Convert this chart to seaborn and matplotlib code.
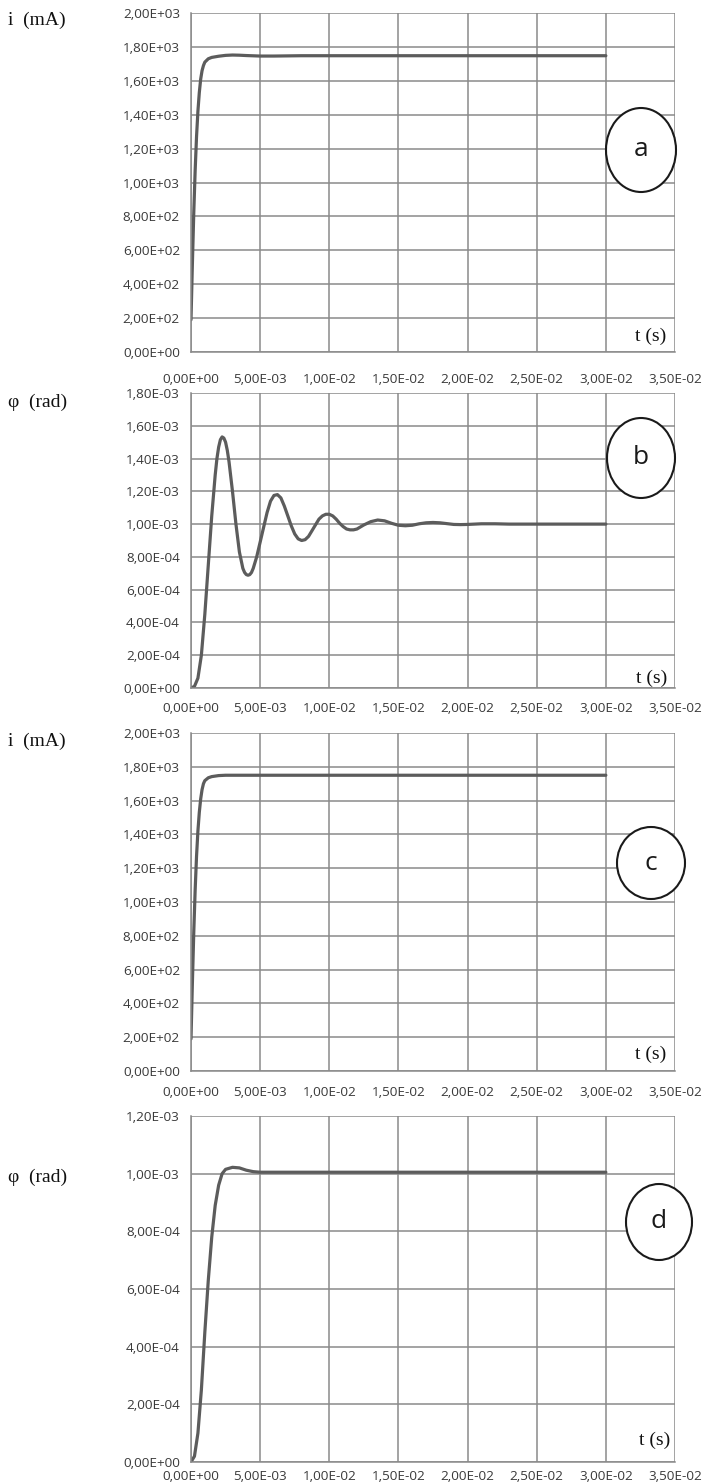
import numpy as np
import pandas as pd
import matplotlib
matplotlib.use("Agg")
import matplotlib.pyplot as plt
import seaborn as sns
from matplotlib.patches import Ellipse
from matplotlib.ticker import FuncFormatter, MultipleLocator

# DATA

# a: current, first simulation
t_a = [0, 0.1e-3, 0.2e-3, 0.3e-3, 0.4e-3, 0.5e-3, 0.6e-3, 0.7e-3, 0.8e-3, 0.9e-3,
       1.0e-3, 1.25e-3, 1.5e-3, 2.0e-3, 2.5e-3, 3.0e-3, 3.5e-3, 4.0e-3, 5.0e-3,
       6.0e-3, 8.0e-3, 1.0e-2, 1.5e-2, 2.0e-2, 2.5e-2, 3.0e-2]
i_a = [190, 520, 820, 1070, 1270, 1420, 1530, 1610, 1660, 1690,
       1710, 1730, 1738, 1745, 1750, 1752, 1751, 1749, 1746,
       1746, 1748, 1748, 1748, 1748, 1748, 1748]

# b: angle, oscillating response
t_b = [0, 0.25e-3, 0.5e-3, 0.75e-3, 1.0e-3, 1.25e-3, 1.5e-3, 1.75e-3, 1.875e-3, 2.0e-3,
       2.125e-3, 2.25e-3, 2.375e-3, 2.5e-3, 2.625e-3, 2.75e-3, 3.0e-3, 3.25e-3, 3.5e-3,
       3.75e-3, 3.875e-3, 4.0e-3, 4.125e-3, 4.25e-3, 4.375e-3, 4.5e-3, 4.75e-3,
       5.0e-3, 5.25e-3, 5.5e-3, 5.75e-3, 6.0e-3, 6.25e-3, 6.5e-3, 6.75e-3, 7.0e-3, 7.25e-3,
       7.5e-3, 7.75e-3, 8.0e-3, 8.25e-3, 8.5e-3, 8.75e-3, 9.0e-3, 9.25e-3, 9.5e-3, 9.75e-3,
       1.0e-2, 1.025e-2, 1.05e-2, 1.075e-2, 1.1e-2, 1.125e-2, 1.15e-2, 1.175e-2, 1.2e-2,
       1.25e-2, 1.3e-2, 1.35e-2, 1.4e-2, 1.45e-2, 1.5e-2, 1.55e-2, 1.6e-2, 1.65e-2,
       1.7e-2, 1.75e-2, 1.8e-2, 1.85e-2, 1.9e-2, 1.95e-2, 2.0e-2, 2.1e-2, 2.2e-2,
       2.3e-2, 2.5e-2, 2.75e-2, 3.0e-2]
phi_b = [0, 0.01e-3, 0.06e-3, 0.2e-3, 0.45e-3, 0.75e-3, 1.05e-3, 1.3e-3, 1.40e-3, 1.47e-3,
         1.515e-3, 1.532e-3, 1.525e-3, 1.5e-3, 1.45e-3, 1.38e-3, 1.2e-3, 1.0e-3, 0.83e-3,
         0.73e-3, 0.705e-3, 0.692e-3, 0.688e-3, 0.692e-3, 0.705e-3, 0.73e-3, 0.8e-3,
         0.89e-3, 0.98e-3, 1.07e-3, 1.14e-3, 1.175e-3, 1.18e-3, 1.16e-3, 1.11e-3, 1.05e-3, 0.99e-3,
         0.94e-3, 0.91e-3, 0.9e-3, 0.905e-3, 0.925e-3, 0.96e-3, 0.995e-3, 1.03e-3, 1.05e-3, 1.06e-3,
         1.06e-3, 1.05e-3, 1.03e-3, 1.005e-3, 0.985e-3, 0.97e-3, 0.965e-3, 0.965e-3, 0.97e-3,
         0.995e-3, 1.015e-3, 1.025e-3, 1.02e-3, 1.005e-3, 0.993e-3, 0.99e-3, 0.993e-3, 1.002e-3,
         1.008e-3, 1.01e-3, 1.008e-3, 1.003e-3, 0.998e-3, 0.997e-3, 0.998e-3, 1.002e-3, 1.002e-3,
         1.0e-3, 1.0e-3, 1.0e-3, 1.0e-3]

# c: current, second simulation
t_c = [0, 0.1e-3, 0.2e-3, 0.3e-3, 0.4e-3, 0.5e-3, 0.6e-3, 0.7e-3, 0.8e-3, 0.9e-3,
       1.0e-3, 1.25e-3, 1.5e-3, 2.0e-3, 2.5e-3, 3.0e-3, 4.0e-3, 5.0e-3, 1.0e-2,
       2.0e-2, 3.0e-2]
i_c = [190, 520, 820, 1070, 1270, 1420, 1530, 1610, 1665, 1700,
       1718, 1735, 1742, 1748, 1750, 1750, 1750, 1750, 1750,
       1750, 1750]

# d: angle, second simulation
t_d = [0, 0.25e-3, 0.5e-3, 0.75e-3, 1.0e-3, 1.25e-3, 1.5e-3, 1.75e-3, 2.0e-3, 2.25e-3,
       2.5e-3, 3.0e-3, 3.5e-3, 4.0e-3, 4.5e-3, 5.0e-3, 1.0e-2, 2.0e-2, 3.0e-2]
phi_d = [0, 0.02e-3, 0.1e-3, 0.25e-3, 0.45e-3, 0.63e-3, 0.78e-3, 0.89e-3, 0.96e-3, 1.0e-3,
         1.015e-3, 1.022e-3, 1.02e-3, 1.012e-3, 1.007e-3, 1.005e-3, 1.005e-3, 1.005e-3, 1.005e-3]

panels = [
    # name, t, y, ymax, ystep, ylabel, box (px: top, bottom), x label pad
    ("a", t_a, i_a, 2.0e3, 0.2e3, "i  (mA)", (13, 352), 10),
    ("b", t_b, phi_b, 1.8e-3, 0.2e-3, "\u03c6  (rad)", (393, 688), 5),
    ("c", t_c, i_c, 2.0e3, 0.2e3, "i  (mA)", (733, 1071), 5.5),
    ("d", t_d, phi_d, 1.2e-3, 0.2e-3, "\u03c6  (rad)", (1116, 1462), 0.5),
]

# ellipse centre and size in pixels, per panel
circles = {
    "a": (641, 150, 70, 84),
    "b": (641, 458, 68, 80),
    "c": (651, 863, 68, 72),
    "d": (659, 1222, 66, 76),
}
# "t (s)" label position in pixels
t_labels = {"a": (651, 336), "b": (652, 678), "c": (651, 1054), "d": (655, 1440)}
# y label position in pixels
y_labels = {"a": (8, 20), "b": (8, 402), "c": (8, 741), "d": (8, 1177)}

W, H = 707, 1484
GRID = "#8a8a8a"
LINE = "#5c5c5c"
TXT = "#3a3a3a"

sns.set_style("white")
plt.rcParams['font.family'] = ['Open Sans', 'DejaVu Sans']

fig = plt.figure(figsize=(W / 100, H / 100), dpi=100)


def sci_comma(v, pos):
    if abs(v) < 1e-12:
        v = 0.0
    return f"{v:.2E}".replace(".", ",")


left_px, right_px = 191, 675

for name, t, y, ymax, ystep, ylabel, (top_px, bot_px), xpad in panels:
    ax = fig.add_axes([left_px / W, 1 - bot_px / H,
                       (right_px - left_px) / W, (bot_px - top_px) / H])
    df = pd.DataFrame({"t": t, "y": y})
    sns.lineplot(data=df, x="t", y="y", ax=ax, color=LINE, linewidth=2.3)

    ax.set_xlim(0, 3.5e-2)
    ax.set_ylim(0, ymax)
    ax.xaxis.set_major_locator(MultipleLocator(5e-3))
    ax.yaxis.set_major_locator(MultipleLocator(ystep))
    ax.xaxis.set_major_formatter(FuncFormatter(sci_comma))
    ax.yaxis.set_major_formatter(FuncFormatter(sci_comma))
    ax.grid(True, color=GRID, linewidth=1.1)
    ax.set_axisbelow(True)
    for s in ["top", "right"]:
        ax.spines[s].set_visible(False)
    for s in ["left", "bottom"]:
        ax.spines[s].set_color(GRID)
        ax.spines[s].set_linewidth(1.1)
    ax.tick_params(axis="both", direction="out", length=5, width=1.1,
                   color=GRID, labelsize=9.7, labelcolor=TXT, pad=3)
    ax.tick_params(axis="x", pad=xpad)
    ax.set_xlabel("")
    ax.set_ylabel("")

    # curve circle with letter
    cx, cy, cw, ch = circles[name]
    fig.add_artist(Ellipse((cx / W, 1 - cy / H), cw / W, ch / H,
                           transform=fig.transFigure, fill=True,
                           facecolor="white", edgecolor="#1a1a1a", linewidth=1.5))
    fig.text(cx / W, 1 - cy / H, name, ha="center", va="center",
             fontsize=19, color="#1a1a1a")

    tx, ty = t_labels[name]
    fig.text(tx / W, 1 - ty / H, "t (s)", ha="center", va="center",
             fontsize=14, family=["Liberation Serif", "DejaVu Serif"], color="#111111")

    lx, ly = y_labels[name]
    fig.text(lx / W, 1 - ly / H, ylabel, ha="left", va="center",
             fontsize=14, family=["Liberation Serif", "DejaVu Serif"], color="#111111")

fig.savefig("out.png", dpi=100)
